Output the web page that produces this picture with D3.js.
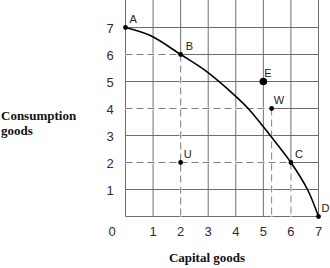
<!DOCTYPE html>
<html>
<head>
<meta charset="utf-8">
<script src="https://cdn.jsdelivr.net/npm/d3@7"></script>
<style>
  body { margin: 0; background: #fff; }
  svg { display: block; }
</style>
</head>
<body>
<svg id="ppf" width="330" height="268"></svg>
<script>
// production possibilities frontier
const ticks = [0, 1, 2, 3, 4, 5, 6, 7];
const curveX = [0, 0.9, 2, 2.9, 4, 4.45, 5.25, 6, 6.6, 7];
const curveY = [7, 6.7, 6, 5.4, 4.45, 4, 3, 2, 1, 0];
const pointNames = ['A', 'B', 'E', 'W', 'U', 'C', 'D'];
const pointX = [0, 2, 5, 5.3, 2, 6, 7];
const pointY = [7, 6, 5, 4, 2, 2, 0];

let svg = d3.select('svg#ppf');
let x = d3.scaleLinear().domain([0, 7]).range([125.5, 318.5]);
let y = d3.scaleLinear().domain([0, 7]).range([216.5, 27.5]);

// grid
let grid = svg.append('g').attr('stroke', '#6e6e6e').attr('stroke-width', 1);
ticks.forEach(t => {
  grid.append('line')
    .attr('x1', x(t)).attr('x2', x(t))
    .attr('y1', y(0)).attr('y2', 0);
  grid.append('line')
    .attr('x1', x(0)).attr('x2', x(7))
    .attr('y1', y(t)).attr('y2', y(t));
});

// dashed guides (white underlay hides the grid beneath)
const guides = [
  [[0, 6], [2, 6]], [[2, 6], [2, 0]],
  [[0, 2], [6, 2]], [[6, 2], [6, 0]],
  [[0, 4], [5.3, 4]], [[5.3, 4], [5.3, 0]]
];
let under = svg.append('g').attr('stroke', '#fff').attr('stroke-width', 2);
let dash = svg.append('g')
  .attr('stroke', '#808080')
  .attr('stroke-width', 1)
  .attr('stroke-dasharray', '7,4');
guides.forEach(g => {
  [under, dash].forEach(layer => {
    layer.append('line')
      .attr('x1', x(g[0][0])).attr('y1', y(g[0][1]))
      .attr('x2', x(g[1][0])).attr('y2', y(g[1][1]));
  });
});

// frontier
let pts = curveX.map((v, i) => [v, curveY[i]]);
svg.append('path')
  .datum(pts)
  .attr('fill', 'none')
  .attr('stroke', '#000')
  .attr('stroke-width', 1.6)
  .attr('d', d3.line().x(d => x(d[0])).y(d => y(d[1])).curve(d3.curveCatmullRom));

// points
const labelDx = {A: 4, B: 5, E: 1, W: 2, U: 3, C: 4, D: 3};
pointNames.forEach((n, i) => {
  svg.append('circle')
    .attr('cx', x(pointX[i])).attr('cy', y(pointY[i]))
    .attr('r', n == 'E' ? 3.8 : 2.4)
    .attr('fill', '#000');
  svg.append('text')
    .attr('x', x(pointX[i]) + labelDx[n])
    .attr('y', y(pointY[i]) - 5)
    .attr('font-family', 'Liberation Sans, Arial, sans-serif')
    .attr('font-size', 11)
    .attr('fill', '#222')
    .text(n);
});

// tick labels
let lab = svg.append('g')
  .attr('font-family', 'Liberation Sans, Arial, sans-serif')
  .attr('font-size', 13)
  .attr('fill', '#2b2b3a');
ticks.slice(1).forEach(t => {
  lab.append('text').attr('x', x(t)).attr('y', 236)
    .attr('text-anchor', 'middle').text(t);
  lab.append('text').attr('x', 110).attr('y', y(t) + 5)
    .attr('text-anchor', 'middle').text(t);
});
lab.append('text').attr('x', 112).attr('y', 236)
  .attr('text-anchor', 'middle').text('0');

// axis titles
let title = svg.append('g')
  .attr('font-family', 'Liberation Serif, Times New Roman, serif')
  .attr('font-weight', 'bold')
  .attr('font-size', 13)
  .attr('fill', '#111');
title.append('text').attr('x', 207).attr('y', 262)
  .attr('text-anchor', 'middle').text('Capital goods');
title.append('text').attr('x', 1).attr('y', 120).text('Consumption');
title.append('text').attr('x', 1).attr('y', 135).text('goods');
</script>
</body>
</html>
